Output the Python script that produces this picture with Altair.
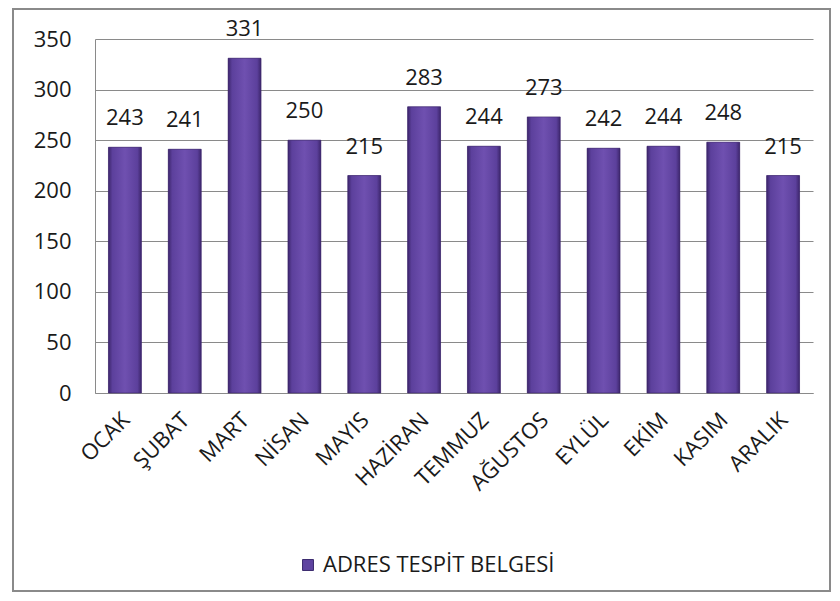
import altair as alt
import pandas as pd

months = ["OCAK", "ŞUBAT", "MART", "NİSAN", "MAYIS", "HAZİRAN", "TEMMUZ",
          "AĞUSTOS", "EYLÜL", "EKİM", "KASIM", "ARALIK"]
values = [243, 241, 331, 250, 215, 283, 244, 273, 242, 244, 248, 215]
series_name = "ADRES TESPİT BELGESİ"
y_ticks = [0, 50, 100, 150, 200, 250, 300, 350]

df = pd.DataFrame({"ay": months, "deger": values, "seri": [series_name] * len(months)})

FONT = "Open Sans"
W, H = 718, 354
PL, PT, PR, PB = 87, 31, 19, 200

x_enc = alt.X("ay:N", sort=months, title=None,
              scale=alt.Scale(paddingInner=0.45, paddingOuter=0.225),
              axis=alt.Axis(labelAngle=-45, labelFontSize=22, labelFont=FONT,
                            labelColor="#1a1a1a", ticks=False, domainColor="#8a8a8a",
                            labelPadding=16, labelOffset=-6,
                            labelAlign="right", labelBaseline="top"))
y_enc = alt.Y("deger:Q", title=None,
              scale=alt.Scale(domain=[0, 350], nice=False),
              axis=alt.Axis(values=y_ticks, labelFontSize=22, labelFont=FONT,
                            labelColor="#1a1a1a", ticks=False, domainColor="#8a8a8a",
                            gridColor="#8a8a8a", labelPadding=24))

base = alt.Chart(df)

legend_bars = base.mark_bar().encode(
    x=x_enc, y=y_enc,
    color=alt.Color("seri:N", title=None,
                    scale=alt.Scale(domain=[series_name], range=["#5e43a0"]),
                    legend=alt.Legend(orient="none", legendX=202, legendY=515,
                                      symbolType="square", symbolSize=120,
                                      symbolStrokeColor="#3b2a6e", symbolStrokeWidth=1,
                                      labelFontSize=22, labelFont=FONT,
                                      labelColor="#1a1a1a", labelLimit=400)),
)

grad = alt.Gradient(
    gradient="linear", x1=0, x2=1, y1=0, y2=0,
    stops=[
        alt.GradientStop(color="#3d266c", offset=0),
        alt.GradientStop(color="#5c409c", offset=0.12),
        alt.GradientStop(color="#6f50b0", offset=0.5),
        alt.GradientStop(color="#5c409c", offset=0.88),
        alt.GradientStop(color="#3d266c", offset=1),
    ],
)

grad_bars = base.mark_bar(color=grad, stroke="#3a2566", strokeWidth=0.6).encode(
    x=alt.X("ay:N", sort=months), y=alt.Y("deger:Q")
)

labels = base.mark_text(baseline="bottom", dy=-17, fontSize=22, font=FONT,
                        color="#1a1a1a").encode(
    x=alt.X("ay:N", sort=months), y=alt.Y("deger:Q"), text="deger:Q"
)

frame = base.mark_rect(filled=False, stroke="#8a8a8a", strokeWidth=2).encode(
    x=alt.value(-PL + 5), x2=alt.value(W + PR - 2),
    y=alt.value(-PT + 1), y2=alt.value(H + PB - 2),
)

chart = alt.layer(frame, legend_bars, grad_bars, labels).properties(
    width=W, height=H,
    autosize=alt.AutoSizeParams(type="none"),
    padding={"left": PL, "top": PT, "right": PR, "bottom": PB},
    background="white",
).configure_view(stroke=None)

chart.save("out.html", embed_options={"renderer": "svg", "actions": False})
